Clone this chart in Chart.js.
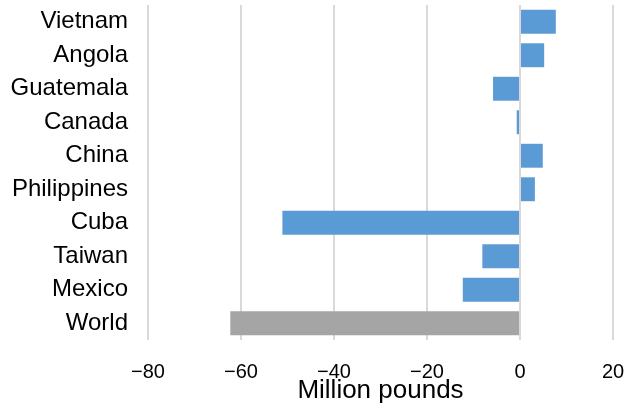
<!DOCTYPE html>
<html>
<head>
<meta charset="utf-8">
<script src="https://cdn.jsdelivr.net/npm/chart.js@4/dist/chart.umd.min.js"></script>
<style>
  html, body { margin: 0; padding: 0; background: #ffffff; }
  #wrap { width: 630px; height: 406px; }
</style>
</head>
<body>
<div id="wrap"><canvas id="chart" width="630" height="406"></canvas></div>
<script>
// Change in imports by source, million pounds
const categories = ['Vietnam', 'Angola', 'Guatemala', 'Canada', 'China', 'Philippines', 'Cuba', 'Taiwan', 'Mexico', 'World'];
const changeValues = [7.7, 5.2, -5.8, -0.7, 4.9, 3.2, -51.1, -8.1, -12.3, -62.3];
const xTicks = [-80, -60, -40, -20, 0, 20];
const xAxisTitle = 'Million pounds';

const BLUE = '#5B9BD5';
const GREY = '#A5A5A5';
const FONT = "'Liberation Sans', Arial, sans-serif";

new Chart(document.getElementById('chart'), {
  type: 'bar',
  data: {
    labels: categories,
    datasets: [{
      data: changeValues,
      backgroundColor: categories.map(c => c === 'World' ? GREY : BLUE),
      borderWidth: 0,
      categoryPercentage: 1,
      barPercentage: 0.714
    }]
  },
  options: {
    indexAxis: 'y',
    responsive: false,
    animation: false,
    devicePixelRatio: 1,
    layout: { padding: { top: 5, right: 17, bottom: 0, left: 0 } },
    plugins: { legend: { display: false }, tooltip: { enabled: false } },
    scales: {
      x: {
        min: xTicks[0],
        max: xTicks[xTicks.length - 1],
        afterBuildTicks: s => { s.ticks = xTicks.map(v => ({ value: v })); },
        afterFit: s => {
          s.height = 66;
          s.paddingLeft = 0; s.paddingRight = 0;
        },
        border: { display: false },
        grid: { color: '#d9d9d9', lineWidth: 2, drawTicks: false },
        ticks: {
          padding: 20,
          color: '#000000',
          font: { family: FONT, size: 20 },
          callback: v => v < 0 ? '\u2212' + Math.abs(v) : String(v)
        },
        title: {
          display: true,
          text: xAxisTitle,
          color: '#000000',
          font: { family: FONT, size: 26, lineHeight: 1.2 },
          padding: { top: 0, bottom: 0 }
        }
      },
      y: {
        afterFit: s => {
          s.width = 148;
          s.paddingTop = 0; s.paddingBottom = 0;
        },
        border: { display: false },
        grid: { display: false, drawTicks: false },
        ticks: {
          autoSkip: false,
          padding: 20,
          color: '#000000',
          font: { family: FONT, size: 24 }
        }
      }
    }
  }
});
</script>
</body>
</html>
